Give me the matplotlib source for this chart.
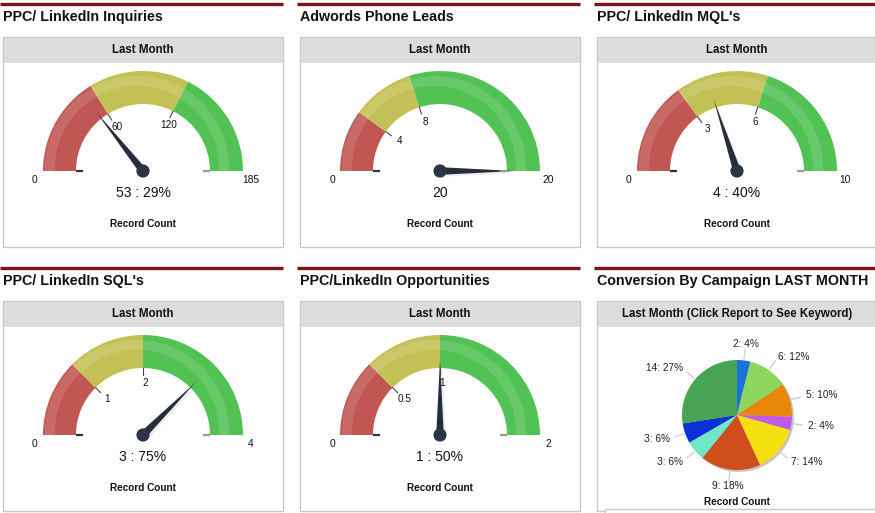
import matplotlib
matplotlib.use("Agg")
import matplotlib.pyplot as plt
from matplotlib.patches import Wedge, Rectangle, Circle, Polygon
import numpy as np

plt.rcParams['font.family'] = ['Liberation Sans', 'DejaVu Sans']

W, H = 875, 513

# ---- data ----
gauge_titles = ["PPC/ LinkedIn Inquiries", "Adwords Phone Leads", "PPC/ LinkedIn MQL's",
                "PPC/ LinkedIn SQL's", "PPC/LinkedIn Opportunities"]
gauge_max = [185, 20, 10, 4, 2]
gauge_breaks = [(60, 120), (4, 8), (3, 6), (1, 2), (0.5, 1)]
gauge_values = [53, 20, 4, 3, 1]
gauge_readouts = ["53 : 29%", "20", "4 : 40%", "3 : 75%", "1 : 50%"]

pie_title = "Conversion By Campaign LAST MONTH"
pie_header = "Last Month (Click Report to See Keyword)"
pie_counts = [2, 6, 5, 2, 7, 9, 3, 3, 14]
pie_pcts = [4, 12, 10, 4, 14, 18, 6, 6, 27]
pie_colors = ['#1a72d8', '#8ed65e', '#e8870a', '#c05ae8', '#f4e010',
              '#d04d1c', '#6fe8c8', '#0a30d8', '#48a455']

band_colors = ['#c15753', '#c3c155', '#52c255']
R_OUT, R_IN = 1.0, 0.67

# panel layout in pixels
col_x = [3, 300, 597]
row_top = [37, 301]
BOX_W, BOX_H, HEAD_H = 280, 210, 25
CY = 134  # gauge centre below box top

fig = plt.figure(figsize=(W / 100, H / 100), dpi=100)
bg = fig.add_axes([0, 0, 1, 1])
bg.set_xlim(0, W)
bg.set_ylim(H, 0)
bg.axis('off')


def px_axes(x0, y0, w, h):
    return fig.add_axes([x0 / W, 1 - (y0 + h) / H, w / W, h / H])


def panel(x0, top, title, header):
    bg.plot([x0 - 3, x0 + 280], [top - 33, top - 33], color='#7a1616', lw=2.4,
            solid_capstyle='butt')
    bg.text(x0, top - 20, title, fontsize=10.3, fontweight='bold', color='#111111',
            ha='left', va='center')
    bg.add_patch(Rectangle((x0, top), BOX_W, BOX_H, fc='white', ec='#c8c8c8', lw=1))
    bg.add_patch(Rectangle((x0 + 0.5, top + 0.5), BOX_W - 1, HEAD_H, fc='#dcdcdc', ec='none'))
    bg.text(x0 + BOX_W / 2, top + HEAD_H / 2 + 0.5, header, fontsize=8.3, fontweight='bold',
            color='#111111', ha='center', va='center')


def gauge(ax, vmax, breaks, value, readout):
    ang = lambda v: 180.0 - 180.0 * v / vmax
    edges = [0, *breaks, vmax]
    for lo, hi, c in zip(edges[:-1], edges[1:], band_colors):
        ax.add_patch(Wedge((0, 0), R_OUT, ang(hi), ang(lo), width=R_OUT - R_IN,
                           fc=c, ec='none'))
    # glossy stripe
    arc = Wedge((0, 0), R_OUT, 0, 180, width=R_OUT - R_IN, transform=ax.transData)
    hl = Wedge((-0.06, 0.03), 0.92, 0, 360, width=0.10, fc='white', ec='none', alpha=0.12)
    ax.add_patch(hl)
    hl.set_clip_path(arc)
    # end ticks
    ax.plot([-R_IN, -R_IN + 0.07], [0, 0], color='#333333', lw=1.6, solid_capstyle='butt')
    ax.plot([R_IN, R_IN - 0.07], [0, 0], color='#999999', lw=1.6, solid_capstyle='butt')
    # band ticks + labels
    for b in breaks:
        a = np.radians(ang(b))
        ax.plot([R_IN * np.cos(a), (R_IN - 0.07) * np.cos(a)],
                [R_IN * np.sin(a), (R_IN - 0.07) * np.sin(a)], color='#444444', lw=0.8)
        ax.text(0.53 * np.cos(a) + 0.02, 0.53 * np.sin(a) - 0.01, '{:g}'.format(b),
                fontsize=7.2, ha='center', va='center', color='#111111')
    ax.text(-1.08, -0.09, '0', fontsize=7.4, ha='center', va='center', color='#111111')
    ax.text(1.08, -0.09, '{:g}'.format(vmax), fontsize=7.4, ha='center', va='center',
            color='#111111')
    # needle
    a = np.radians(ang(value))
    L, hw = 0.75, 0.038
    d = np.array([np.cos(a), np.sin(a)])
    n = np.array([-d[1], d[0]])
    off = np.array([0.02, -0.02])
    ax.add_patch(Polygon([L * d + off, hw * n + off, -hw * n + off],
                         fc='#888888', ec='none', alpha=0.15))
    ax.add_patch(Polygon([L * d, hw * n, -hw * n], fc='#262d3b', ec='none'))
    ax.add_patch(Circle((0, 0), 0.066, fc='#2b3344', ec='none'))
    ax.text(0, -0.22, readout, fontsize=10, ha='center', va='center', color='#111111')
    ax.text(0, -0.53, 'Record Count', fontsize=7.2, fontweight='bold', ha='center',
            va='center', color='#111111')


slots = [(0, 0), (1, 0), (2, 0), (0, 1), (1, 1)]
for (c, r), title, vmax, br, val, txt in zip(slots, gauge_titles, gauge_max, gauge_breaks,
                                            gauge_values, gauge_readouts):
    x0, top = col_x[c], row_top[r]
    panel(x0, top, title, 'Last Month')
    ax = px_axes(x0, top + HEAD_H, BOX_W, BOX_H - HEAD_H)
    ax.set_xlim(-1.4, 1.4)
    ax.set_ylim(-(BOX_H - CY) / 100, (CY - HEAD_H) / 100)
    ax.axis('off')
    gauge(ax, vmax, br, val, txt)

# ---- pie panel ----
x0, top = col_x[2], row_top[1]
panel(x0, top, pie_title, pie_header)
bg.add_patch(Rectangle((605, 509), 280, 20, fc='white', ec='#c8c8c8', lw=1))
pax = px_axes(x0, top + HEAD_H, BOX_W, BOX_H - HEAD_H)
PR = 55.0
pcy = 114
pax.add_patch(Circle((0.035, -0.035), 1.0, fc='#c4c4c4', ec='none', zorder=0))
wedges, _ = pax.pie(pie_counts, colors=pie_colors, startangle=90, counterclock=False,
                    radius=1.0, wedgeprops=dict(ec='none'))
for w, cnt, pct in zip(wedges, pie_counts, pie_pcts):
    th = np.radians((w.theta1 + w.theta2) / 2)
    cx, cy = np.cos(th), np.sin(th)
    pax.plot([1.03 * cx, 1.2 * cx], [1.03 * cy, 1.2 * cy], color='#cccccc', lw=0.9)
    ha = 'left' if cx > 0.2 else ('right' if cx < -0.2 else 'center')
    pax.text(1.3 * cx, 1.3 * cy, '%d: %d%%' % (cnt, pct), fontsize=7.3, ha=ha, va='center',
             color='#222222')
pax.text(0, -1.58, 'Record Count', fontsize=7.2, fontweight='bold', ha='center',
         va='center', color='#111111')
pax.set_aspect('auto')
pax.set_xlim(-BOX_W / 2 / PR, BOX_W / 2 / PR)
pax.set_ylim(-(BOX_H - pcy) / PR, (pcy - HEAD_H) / PR)
pax.axis('off')

fig.savefig('out.png', dpi=100)
